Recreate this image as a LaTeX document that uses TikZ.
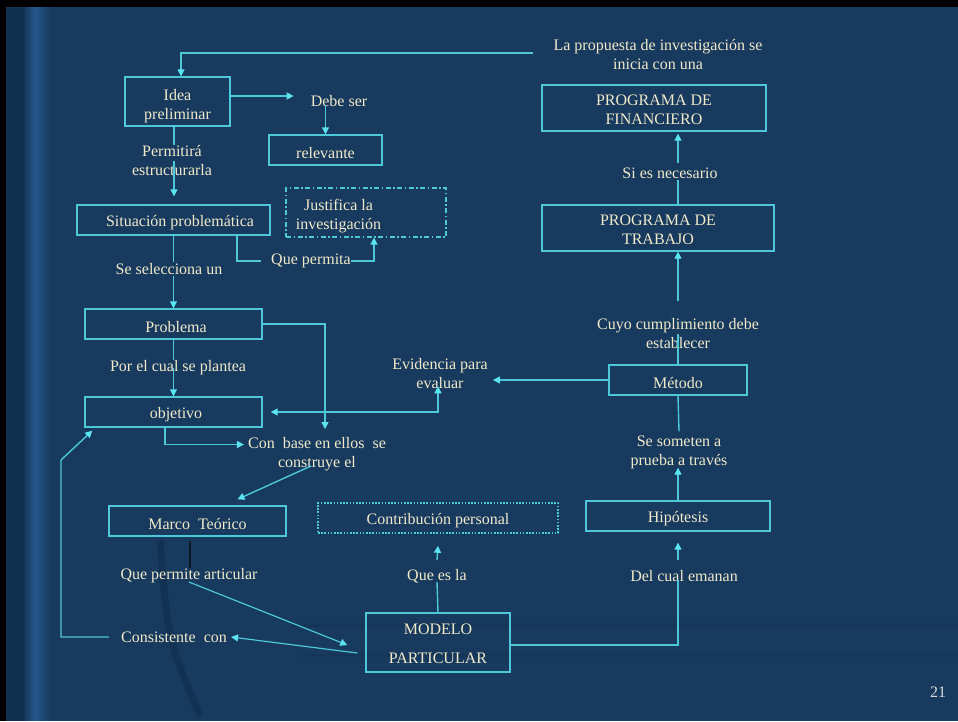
\documentclass[tikz,border=0pt]{standalone}
\usepackage{fontspec}
\setmainfont{Liberation Serif}
\usetikzlibrary{arrows.meta,calc}
\definecolor{bg}{HTML}{173A5E}
\definecolor{bgdark}{HTML}{12304F}
\definecolor{band}{HTML}{25588C}
\definecolor{ln}{HTML}{4CC8D8}
\definecolor{tipc}{HTML}{5BE4F0}
\definecolor{tx}{HTML}{F0EACB}
\definecolor{pg}{HTML}{D4D8DE}
\definecolor{darkln}{HTML}{0A1828}
\begin{document}
\begin{tikzpicture}[x=1pt,y=-1pt,
  txt/.style={text=tx,font=\fontsize{16}{19}\selectfont},
  box/.style={txt,draw=ln,line width=1.4pt,align=center,inner sep=0pt},
  lbl/.style={txt,align=center,inner sep=1pt},
  conn/.style={draw=ln,line width=1.4pt},
  arr/.style={conn,-{Triangle[width=7pt,length=7pt,color=tipc]}},
  dbl/.style={conn,{Triangle[width=7pt,length=7pt,color=tipc]}-{Triangle[width=7pt,length=7pt,color=tipc]}},
  dashdotbox/.style={box,line width=1.2pt,dash pattern=on 5pt off 2.5pt on 1.5pt off 2.5pt},
  dotbox/.style={box,line width=1.6pt,dash pattern=on 1.6pt off 1.6pt}
]
\newcommand{\up}[1]{\rule{0pt}{#1pt}}
% background
\useasboundingbox (0,0) rectangle (958,721);
\begin{scope}
\clip (0,0) rectangle (958,721);
\fill[bg] (0,0) rectangle (958,721);
\fill[bgdark] (6,7) rectangle (22,721);
\foreach \i in {0,...,13} {
  \pgfmathsetmacro{\p}{100*\i/13}
  \fill[band!\p!bgdark] (22+\i,7) rectangle (23.2+\i,721);
}
\foreach \i in {0,...,15} {
  \pgfmathsetmacro{\p}{100-100*\i/15}
  \fill[band!\p!bg] (35+\i,7) rectangle (36.2+\i,721);
}
\draw[bgdark,line width=7pt,opacity=0.7] (160,540) .. controls (168,640) .. (200,716);
\draw[bgdark,line width=4pt,opacity=0.35] (290,625) -- (958,625);
\draw[bgdark,line width=3pt,opacity=0.3] (300,655) -- (958,655);
\fill[black] (0,0) rectangle (958,7);
\fill[black] (0,0) rectangle (6,721);
\end{scope}

% nodes
\node[box,minimum width=105pt,minimum height=49pt] (idea) at (177.5,101.5) {\up{19.5}Idea\\preliminar};
\node[lbl] (debe) at (339,101) {Debe ser};
\node[box,minimum width=113pt,minimum height=30pt] (relev) at (325.5,150) {\up{16.5}relevante};
\node[lbl] (perm) at (172,161) {Permitirá\\estructurarla};
\node[box,minimum width=193pt,minimum height=30pt] (sit) at (173.5,220) {\up{16.5}\hspace{13pt}Situación problemática};
\node[dashdotbox,minimum width=160pt,minimum height=49pt] (just) at (366,212.5)
  {\begin{tabular}{@{}c@{}}\up{21}Justifica la\\investigación\end{tabular}\hspace{55pt}};
\node[lbl] (qp) at (311,261) {Que permita};
\node[lbl] (sesel) at (169,269) {Se selecciona un};
\node[box,minimum width=177pt,minimum height=30pt] (prob) at (173.5,324) {\up{16.5}\hspace{5pt}Problema};
\node[lbl] (por) at (178,368) {Por el cual se plantea};
\node[box,minimum width=177pt,minimum height=30pt] (obj) at (173.5,412) {\up{16.5}\hspace{5pt}objetivo};
\node[lbl] (conb) at (317,454) {Con\ \ base en ellos\ \ se\\construye el};
\node[lbl] (evid) at (440,374) {Evidencia para\\evaluar};
\node[box,minimum width=138pt,minimum height=30pt] (met) at (678,380) {\up{16.5}Método};
\node[lbl] (cuyo) at (678,334) {Cuyo cumplimiento debe\\establecer};
\node[lbl] (somet) at (679,452) {Se someten a\\prueba a través};
\node[box,minimum width=184pt,minimum height=30pt] (hip) at (678,516) {\up{16.5}Hipótesis};
\node[lbl] (delc) at (684,576) {Del cual emanan};
\node[box,minimum width=144pt,minimum height=59pt] (modelo) at (438,642.5) {\up{14}MODELO\\[10pt]PARTICULAR};
\node[lbl] (quees) at (437,576) {Que es la};
\node[dotbox,minimum width=240pt,minimum height=30pt] (contrib) at (438,518) {\up{16.5}Contribución personal};
\node[box,minimum width=177pt,minimum height=30pt] (marco) at (197.5,521) {\up{16.5}Marco\ \ Teórico};
\node[lbl] (qpa) at (189,576) {Que permite articular};
\node[lbl] (cons) at (174,637) {Consistente\ \ con};
\node[lbl] (prop) at (658,55) {La propuesta de investigación se\\inicia con una};
\node[box,minimum width=224pt,minimum height=46pt] (fin) at (654,108) {\up{15}PROGRAMA DE\\FINANCIERO};
\node[lbl] (sies) at (670,173) {Si es necesario};
\node[box,minimum width=232pt,minimum height=46pt] (trab) at (658,228) {\up{15}PROGRAMA DE\\TRABAJO};
\node[text=pg,font=\fontsize{16}{19}\selectfont] (pnum) at (938,692) {21};
\coordinate (c1) at (61,460);

% connectors
\draw[arr] ([xshift=-19pt,yshift=2pt]prop.west) -| ([xshift=3.5pt]idea.north);
\draw[arr] ([yshift=5.5pt]idea.east) -- ([yshift=5.5pt,xshift=-16pt]idea.east -| debe.west);
\draw[arr] ([yshift=-4pt]debe.center -| relev.north) -- (relev.north);
\draw[conn] ([xshift=-3.5pt]idea.south) -- ($(idea.south |- perm.north)+(-3.5,0)$);
\draw[arr,shorten >=8pt] ($(idea.south |- perm.center)+(-3.5,0)$) -- ($(sit.north)+(0.5,0)$);
\draw[conn] (sit.south) -- (sit.south |- sesel.north);
\draw[arr] (sit.south |- sesel.south) -- (prob.north);
\draw[conn] ([xshift=63.5pt]sit.south) |- ([xshift=-9pt]qp.west);
\draw[arr] ([xshift=-1pt]qp.east) -| ([xshift=8pt]just.south);
\draw[conn] (prob.south) -- (prob.south |- por.north);
\draw[arr] (prob.south |- por.center) -- (obj.north);
\draw[arr] (prob.east) -| ([xshift=8pt,yshift=7pt]conb.north);
\draw[arr] ([xshift=-8.5pt]obj.south) |- ([yshift=9.5pt,xshift=-3pt]conb.west);
\draw[arr] ([xshift=-6pt,yshift=6pt]conb.south) -- ($(marco.north)+(40,-6)$);
\draw[dbl] ([xshift=8pt]obj.east) -| ([xshift=-2pt,yshift=4pt]evid.south);
\draw[arr] (met.west) -- ($(evid.east |- met.west)+(4,0)$);
\draw[conn] (met.north) -- (cuyo.center);
\draw[arr] ([yshift=17pt]cuyo.north) -- ($(trab.south)+(20,0)$);
\draw[conn] (met.south) -- ([yshift=3pt]somet.north);
\draw[arr] (hip.north) -- ([xshift=-1pt,yshift=2pt]somet.south);
\draw[arr] ([xshift=-6pt,yshift=9pt]delc.north) -- ([yshift=-11pt]hip.south);
\draw[conn] ([xshift=-6pt,yshift=-4pt]delc.center) |- ([yshift=-2.5pt]modelo.east);
\draw[conn] (modelo.north) -- ([yshift=-6pt]quees.center);
\draw[arr] ([yshift=8pt]quees.north) -- ([yshift=-12pt]contrib.south);
\draw[draw=darkln,line width=1.4pt] ([xshift=-7.5pt,yshift=-4pt]marco.south) -- ([xshift=1pt]qpa.north);
\draw[conn,line width=1.2pt,-{Triangle[width=7pt,length=7pt,color=tipc]}] ([yshift=-6pt]qpa.center) -- ($(modelo.west)+(-18,2.5)$);
\draw[conn,line width=1.2pt,-{Triangle[width=7pt,length=7pt,color=tipc]}] ($(modelo.west)+(-8,10.5)$) -- ([xshift=3pt]cons.east);
\draw[arr] ([xshift=-11pt]cons.west) -| (c1) -- ($(obj.south west)+(8,3)$);
\draw[conn] ($(trab.north)+(20,0)$) -- ($(sies.south)+(8,0)$);
\draw[arr] ($(sies.north)+(8,-3)$) -- ($(fin.south)+(24,2)$);
\end{tikzpicture}
\end{document}
